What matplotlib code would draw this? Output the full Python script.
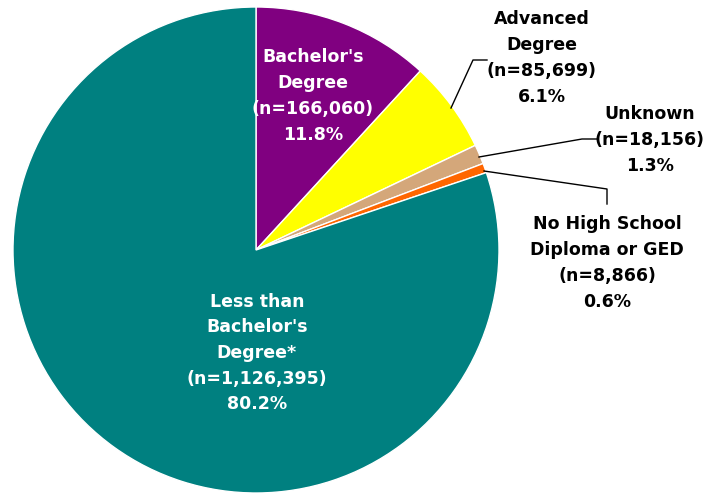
import matplotlib.pyplot as plt

categories = ["Bachelor's\nDegree", "Advanced\nDegree", "Unknown",
              "No High School\nDiploma or GED", "Less than\nBachelor's\nDegree*"]
counts = [166060, 85699, 18156, 8866, 1126395]
pct_labels = ["11.8%", "6.1%", "1.3%", "0.6%", "80.2%"]
colors = ["#800080", "#FFFF00", "#D4A77A", "#FF6600", "#008080"]

plt.rcParams['font.family'] = ['DejaVu Sans']

H = 497
fig = plt.figure(figsize=(7.06, 4.97), dpi=100)
ax = fig.add_axes([0, 0, 1, 1])

# pie in pixel coordinates (y measured from top, converted with H - y)
ax.pie(counts, colors=colors, startangle=90, counterclock=False,
       center=(256, H - 250), radius=243,
       wedgeprops=dict(edgecolor='white', linewidth=1))
ax.set_xlim(0, 706)
ax.set_ylim(0, H)
ax.set_aspect('equal')
ax.axis('off')

labels = [f"{c}\n(n={n:,})\n{p}" for c, n, p in zip(categories, counts, pct_labels)]
label_pos = [(313, 96), (542, 58), (650, 140), (607, 263), (257, 353)]
label_col = ['white', 'black', 'black', 'black', 'white']
for txt, (x, y), col in zip(labels, label_pos, label_col):
    ax.text(x, H - y, txt, ha='center', va='center', fontsize=12.5,
            fontweight='bold', color=col, linespacing=1.55)

# leader lines
for xs, ys in [([451, 473, 487], [108, 60, 60]),
               ([479, 582, 597], [157, 139, 139]),
               ([484, 607, 607], [171, 189, 204])]:
    ax.plot(xs, [H - y for y in ys], color='black', lw=1)

fig.savefig('out.png', dpi=100)
